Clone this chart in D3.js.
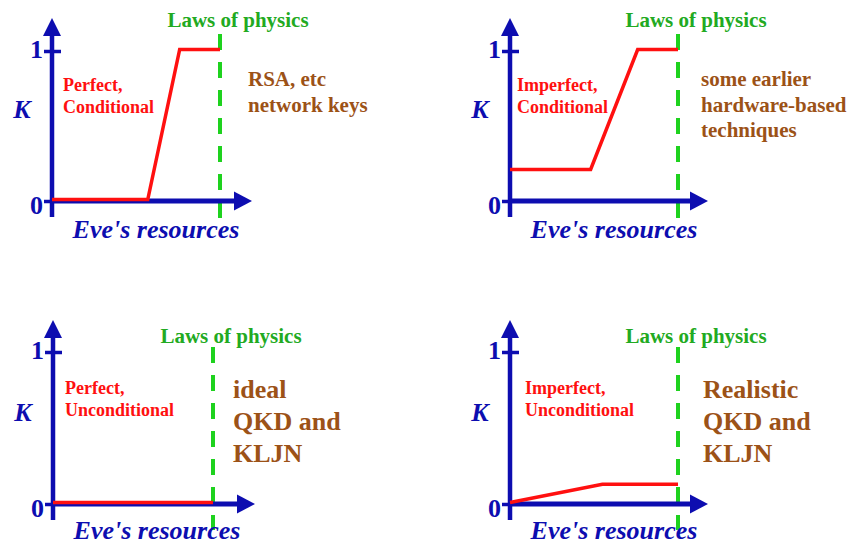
<!DOCTYPE html>
<html>
<head>
<meta charset="utf-8">
<script src="https://cdn.jsdelivr.net/npm/d3@7"></script>
<style>
  html, body { margin: 0; padding: 0; background: #fff; }
  svg { display: block; }
  svg text { font-family: "Liberation Serif", "Times New Roman", Times, "DejaVu Serif", serif !important; font-weight: bold; }
</style>
</head>
<body>
<div id="chart"></div>
<script>
// global constants
const WIDTH = 849;
const HEIGHT = 544;
const FONT = "'Liberation Serif', 'Times New Roman', Times, 'DejaVu Serif', serif";
const AXIS_COLOR = "#0d0db0";
const RED = "#ff1010";
const GREEN_LINE = "#1ed21e";
const GREEN_TEXT = "#22aa22";
const BROWN = "#9c5217";

// data
const yTicks = [0, 1];
const physicsLabel = "Laws of physics";
const xAxisLabel = "Eve's resources";
const yAxisLabel = "K";
const redLabels = [
  ["Perfect,", "Conditional"],
  ["Imperfect,", "Conditional"],
  ["Perfect,", "Unconditional"],
  ["Imperfect,", "Unconditional"],
];
const brownLabels = [
  ["RSA, etc", "network keys"],
  ["some earlier", "hardware-based", "techniques"],
  ["ideal", "QKD and", "KLJN"],
  ["Realistic", "QKD and", "KLJN"],
];
// Eve's resources (0 = none, 1 = laws of physics limit)
const resourceX = [
  [0, 0.57, 0.76, 1],
  [0, 0.48, 0.76, 1],
  [0, 1],
  [0, 0.55, 1],
];
// K values at those points
const keyK = [
  [0, 0, 1, 1],
  [0.2, 0.2, 1, 1],
  [0, 0],
  [0, 0.12, 0.12],
];

// panel layout (pixels)
const PANELS = [
  { ox: 52, oy: 201, yTop: 18, y1: 51, xTip: 252, gx: 220, gTop: 34, gBot: 218, lawsY: 27, evY: 238, redX: 63, brownX: 248, brownY: 86, lead: 26, brownSize: 21 },
  { ox: 510, oy: 201, yTop: 18, y1: 51, xTip: 708, gx: 678, gTop: 34, gBot: 218, lawsY: 27, evY: 238, redX: 517, brownX: 701, brownY: 86, lead: 25.5, brownSize: 21 },
  { ox: 53, oy: 504, yTop: 320, y1: 352, xTip: 255, gx: 213, gTop: 347, gBot: 530, lawsY: 343, evY: 539, redX: 65, brownX: 233, brownY: 398, lead: 32, brownSize: 26 },
  { ox: 510, oy: 504, yTop: 320, y1: 352, xTip: 708, gx: 678, gTop: 347, gBot: 530, lawsY: 343, evY: 539, redX: 525, brownX: 703, brownY: 398, lead: 32, brownSize: 26 },
];

const svg = d3
  .select("#chart")
  .append("svg")
  .attr("width", WIDTH)
  .attr("height", HEIGHT)
  .attr("font-family", FONT);

function drawPanel(p, i) {
  const g = svg.append("g").attr("class", "panel");

  const x = d3.scaleLinear().domain([0, 1]).range([p.ox, p.gx]);
  const y = d3.scaleLinear().domain([0, 1]).range([p.oy, p.y1]);

  // Y axis ticks and labels
  const yAxis = g
    .append("g")
    .attr("transform", "translate(" + p.ox + ",0)")
    .call(d3.axisLeft(y).tickValues(yTicks).tickSize(8).tickPadding(1).tickFormat(d3.format("d")))
    .attr("font-family", FONT);
  yAxis.select(".domain").remove();
  yAxis
    .selectAll(".tick line")
    .attr("stroke", AXIS_COLOR)
    .attr("stroke-width", 3.5)
    .attr("x1", (d) => (d === 1 ? 9 : 0));
  yAxis
    .selectAll(".tick text")
    .attr("fill", AXIS_COLOR)
    .attr("font-size", 26)
    .attr("dy", (d) => (d === 1 ? 6 : 12));

  // green dashed limit
  g.append("line")
    .attr("x1", p.gx)
    .attr("x2", p.gx)
    .attr("y1", p.gTop)
    .attr("y2", p.gBot)
    .attr("stroke", GREEN_LINE)
    .attr("stroke-width", 4)
    .attr("stroke-dasharray", "16 12");

  // axis lines
  g.append("line")
    .attr("x1", p.ox)
    .attr("x2", p.ox)
    .attr("y1", p.oy + 16)
    .attr("y2", p.yTop + 14)
    .attr("stroke", AXIS_COLOR)
    .attr("stroke-width", 4.5);
  g.append("line")
    .attr("x1", p.ox - 2)
    .attr("x2", p.xTip - 14)
    .attr("y1", p.oy)
    .attr("y2", p.oy)
    .attr("stroke", AXIS_COLOR)
    .attr("stroke-width", 5);

  // arrow heads
  g.append("path")
    .attr("d", `M${p.ox},${p.yTop} L${p.ox - 9},${p.yTop + 18} L${p.ox + 9},${p.yTop + 18} Z`)
    .attr("fill", AXIS_COLOR);
  g.append("path")
    .attr("d", `M${p.xTip},${p.oy} L${p.xTip - 18},${p.oy - 9.5} L${p.xTip - 18},${p.oy + 9.5} Z`)
    .attr("fill", AXIS_COLOR);

  // red key curve
  const line = d3
    .line()
    .x((d) => x(d[0]))
    .y((d) => y(d[1]));
  g.append("path")
    .datum(d3.zip(resourceX[i], keyK[i]))
    .attr("d", line)
    .attr("transform", "translate(0,-1.5)")
    .attr("fill", "none")
    .attr("stroke", RED)
    .attr("stroke-width", 3.5)
    .attr("stroke-linejoin", "miter");

  // axis titles
  g.append("text")
    .attr("x", p.ox - 30)
    .attr("y", p.oy - 83)
    .attr("text-anchor", "middle")
    .attr("font-size", 26)
    .attr("font-style", "italic")
    .attr("fill", AXIS_COLOR)
    .text(yAxisLabel);
  g.append("text")
    .attr("x", p.ox + 104)
    .attr("y", p.evY)
    .attr("text-anchor", "middle")
    .attr("font-size", 26)
    .attr("font-style", "italic")
    .attr("fill", AXIS_COLOR)
    .text(xAxisLabel);

  // laws of physics label
  g.append("text")
    .attr("x", p.gx + 18)
    .attr("y", p.lawsY)
    .attr("text-anchor", "middle")
    .attr("font-size", 21)
    .attr("fill", GREEN_TEXT)
    .text(physicsLabel);

  // red label
  g.selectAll(".red-label")
    .data(redLabels[i])
    .join("text")
    .attr("class", "red-label")
    .attr("x", p.redX)
    .attr("y", (d, j) => p.oy - 110 + j * 21.5)
    .attr("font-size", 18)
    .attr("fill", RED)
    .text((d) => d);

  // brown label
  g.selectAll(".brown-label")
    .data(brownLabels[i])
    .join("text")
    .attr("class", "brown-label")
    .attr("x", p.brownX)
    .attr("y", (d, j) => p.brownY + j * p.lead)
    .attr("font-size", p.brownSize)
    .attr("fill", BROWN)
    .text((d) => d);
}

PANELS.forEach(drawPanel);
</script>
</body>
</html>
